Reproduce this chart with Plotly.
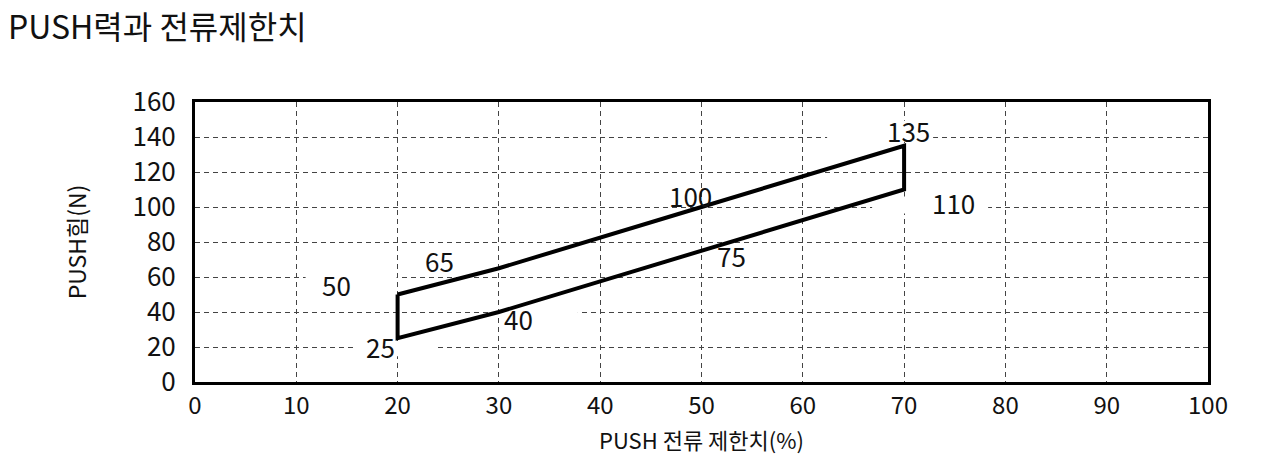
import plotly.graph_objects as go

# ---- data ----
current_limit = [20, 30, 50, 70]          # PUSH 전류 제한치 (%)
force_upper = [50, 65, 100, 135]          # PUSH힘 (N) upper bound
force_lower = [25, 40, 75, 110]           # PUSH힘 (N) lower bound
x_ticks = [0, 10, 20, 30, 40, 50, 60, 70, 80, 90, 100]
y_ticks = [0, 20, 40, 60, 80, 100, 120, 140, 160]

title_text = "PUSH력과 전류제한치"
x_title = "PUSH 전류 제한치(%)"
y_title = "PUSH힘(N)"

# label placement (pixel offsets from each vertex)
upper_dx = [-61, -59, -11, 4]
upper_dy = [10, 8, 12, 15]
lower_dx = [-17, 20, 30, 49]
lower_dy = [-8, -6, -5, -13]

FONT = "Noto Sans CJK KR, Noto Sans, sans-serif"

# closed outline: upper left->right, then lower right->left, back to start
poly_x = current_limit + current_limit[::-1] + [current_limit[0]]
poly_y = force_upper + force_lower[::-1] + [force_upper[0]]

fig = go.Figure()
fig.add_trace(go.Scatter(
    x=poly_x, y=poly_y, mode="lines",
    line=dict(color="black", width=4),
    hoverinfo="skip", showlegend=False,
))

annotations = []
for xs, ys, dxs, dys in [(current_limit, force_upper, upper_dx, upper_dy),
                         (current_limit, force_lower, lower_dx, lower_dy)]:
    for xv, yv, dx, dy in zip(xs, ys, dxs, dys):
        annotations.append(dict(
            x=xv, y=yv, xref="x", yref="y", text=str(yv), showarrow=False,
            xshift=dx, yshift=dy, font=dict(family=FONT, size=26, color="#111111"),
        ))

# white label boxes hiding gridlines (drawn between gridlines and traces)
boxes = [
    (current_limit[0], force_upper[0], -92, -1, -3, 22),
    (current_limit[3], force_upper[3], -77, 29, 4, 25),
    (current_limit[0], force_lower[0], -43, 39, -18, -3),
    (current_limit[1], force_lower[1], 1, 79, -18, 6),
    (current_limit[3], force_lower[3], -32, 84, -24, -7),
]
shapes = []
for ax_, ay_, x0, x1, y0, y1 in boxes:
    shapes.append(dict(
        type="rect", layer="between",
        xref="x", yref="y", xsizemode="pixel", ysizemode="pixel",
        xanchor=ax_, yanchor=ay_, x0=x0, x1=x1, y0=y0, y1=y1,
        fillcolor="white", line=dict(width=0),
    ))

fig.update_layout(
    width=1272, height=448,
    margin=dict(l=187, r=72, t=94, b=74, autoexpand=False),
    paper_bgcolor="white", plot_bgcolor="white",
    title=dict(text=title_text, x=0.0, xref="container", xanchor="left",
               y=0.955, yref="container", yanchor="middle",
               font=dict(family=FONT, size=32, color="#111111")),
    annotations=annotations,
    shapes=shapes,
    showlegend=False,
)

axis_common = dict(
    showline=True, linecolor="black", linewidth=3, mirror=True,
    showgrid=True, gridcolor="#444444", gridwidth=1, griddash="5px,4px",
    zeroline=False, ticks="", automargin=False,
)
fig.update_xaxes(range=[0, 100], tickvals=x_ticks, ticktext=[str(t) for t in x_ticks],
                 tickfont=dict(family=FONT, size=24, color="#111111"),
                 title=dict(text=x_title, font=dict(family=FONT, size=22, color="#111111"), standoff=14),
                 ticklabelstandoff=0, **axis_common)
fig.update_yaxes(range=[0, 160], tickvals=y_ticks, ticktext=[str(t) for t in y_ticks],
                 tickfont=dict(family=FONT, size=26, color="#111111"),
                 title=dict(text=y_title, font=dict(family=FONT, size=23, color="#111111"), standoff=40),
                 ticklabelstandoff=11, **axis_common)

fig.write_html("out.html")
